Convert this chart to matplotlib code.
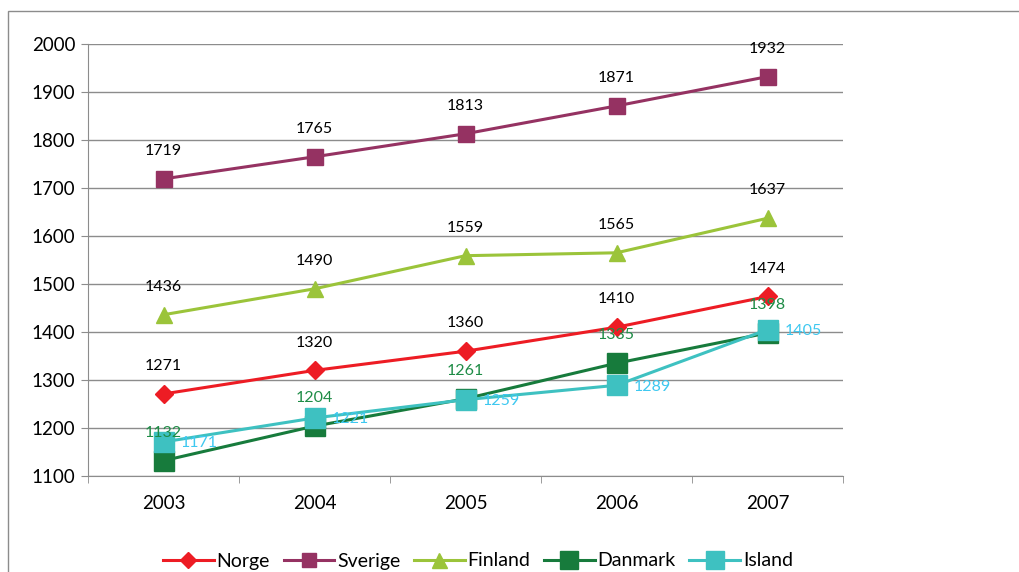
import numpy as np
import matplotlib.pyplot as plt
from matplotlib.patches import Rectangle

plt.rcParams['font.family'] = ['Lato', 'DejaVu Sans']

years = ['2003', '2004', '2005', '2006', '2007']
norge = [1271, 1320, 1360, 1410, 1474]
sverige = [1719, 1765, 1813, 1871, 1932]
finland = [1436, 1490, 1559, 1565, 1637]
danmark = [1132, 1204, 1261, 1335, 1398]
island = [1171, 1221, 1259, 1289, 1405]

x = np.arange(len(years))

fig = plt.figure(figsize=(10.19, 5.72), dpi=100)
ax = fig.add_axes([0.0864, 0.1678, 0.7409, 0.7553])

# outer chart border (cut at right and bottom)
fig.patches.append(Rectangle((8 / 1019, -0.1), 1.2, 1 - 11 / 572 + 0.1,
                             transform=fig.transFigure, fill=False,
                             edgecolor='#8c8c8c', linewidth=1.0))

series = [
    ('Norge', norge, '#ED1C24', 'D', 9, 'k', 'above'),
    ('Sverige', sverige, '#953262', 's', 11, 'k', 'above'),
    ('Finland', finland, '#9BC43A', '^', 12, 'k', 'above'),
    ('Danmark', danmark, '#177B3C', 's', 14, '#1E8C46', 'above'),
    ('Island', island, '#3EC1C1', 's', 14, '#3EC8F0', 'right'),
]

for name, vals, col, mk, ms, lcol, pos in series:
    ax.plot(x, vals, color=col, lw=2.2, marker=mk, ms=ms, label=name,
            markeredgecolor=col, zorder=3)
    for xi, v in zip(x, vals):
        if pos == 'above':
            ax.annotate(str(v), (xi, v), xytext=(0, 20), textcoords='offset points',
                        ha='center', va='center', fontsize=11.5, color=lcol, zorder=4)
        else:
            ax.annotate(str(v), (xi, v), xytext=(12, -1), textcoords='offset points',
                        ha='left', va='center', fontsize=11.5, color=lcol, zorder=4)

ax.set_xlim(-0.5, 4.5)
ax.set_ylim(1100, 2000)
ax.set_yticks(np.arange(1100, 2001, 100))
ax.set_xticks(x)
ax.set_xticklabels(years)
ax.set_xticks(np.arange(-0.5, 4.6, 1), minor=True)
ax.tick_params(axis='x', which='major', length=0, labelsize=13.5, pad=14)
ax.tick_params(axis='x', which='minor', length=5, color='#8c8c8c', direction='out')
ax.tick_params(axis='y', length=5, color='#8c8c8c', labelsize=13.5, pad=4)
ax.grid(axis='y', color='#8c8c8c', lw=1.0)
ax.set_axisbelow(True)
for s in ['top', 'right']:
    ax.spines[s].set_visible(False)
for s in ['left', 'bottom']:
    ax.spines[s].set_color('#8c8c8c')

fig.legend(loc='center', bbox_to_anchor=(478 / 1019, 1 - 561 / 572), ncol=5,
           frameon=False, fontsize=14, handlelength=2.6, handletextpad=0.15,
           columnspacing=0.7, markerscale=0.9)

fig.savefig('out.png', dpi=100)
